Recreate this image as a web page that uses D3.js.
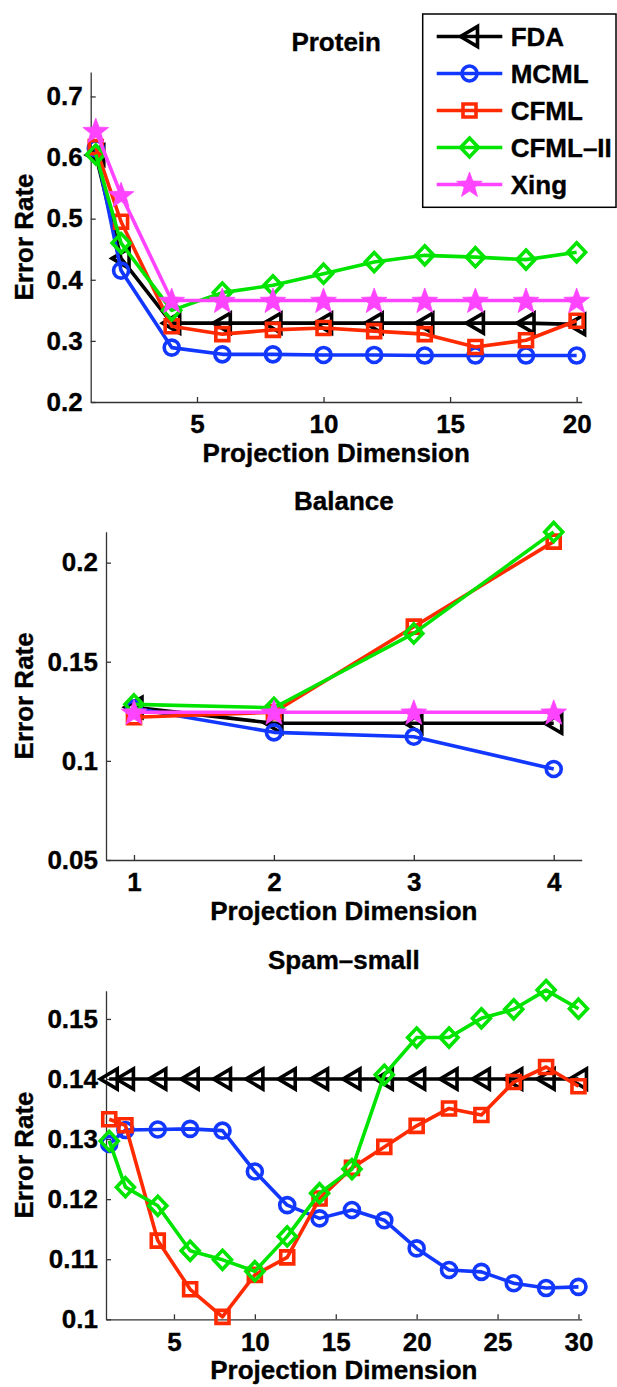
<!DOCTYPE html>
<html>
<head>
<meta charset="utf-8">
<script src="https://cdn.jsdelivr.net/npm/d3@7"></script>
<style>
  html, body { margin: 0; padding: 0; background: #fff; }
  svg { display: block; }
  text { font-family: "Liberation Sans", Arial, Helvetica, sans-serif; font-weight: bold; fill: #000; stroke: #000; stroke-width: 0.35px; }
</style>
</head>
<body>
<svg id="chart" width="617" height="1387"></svg>
<script>
// ---------------- DATA ----------------
const seriesNames = ["FDA", "MCML", "CFML", "CFML\u2013II", "Xing"];

// Protein
const proteinDims = [1, 2, 4, 6, 8, 10, 12, 14, 16, 18, 20];
const proteinFDA   = [0.604, 0.435, 0.329, 0.329, 0.329, 0.329, 0.329, 0.329, 0.329, 0.329, 0.327];
const proteinMCML  = [0.615, 0.415, 0.289, 0.278, 0.278, 0.277, 0.277, 0.276, 0.276, 0.276, 0.276];
const proteinCFML  = [0.617, 0.495, 0.324, 0.311, 0.318, 0.321, 0.316, 0.311, 0.290, 0.301, 0.333];
const proteinCFML2 = [0.605, 0.460, 0.350, 0.379, 0.391, 0.410, 0.429, 0.440, 0.437, 0.433, 0.445];
const proteinXing  = [0.644, 0.539, 0.366, 0.366, 0.366, 0.366, 0.366, 0.366, 0.366, 0.366, 0.366];
const proteinYTicks = [0.2, 0.3, 0.4, 0.5, 0.6, 0.7];
const proteinXTicks = [5, 10, 15, 20];

// Balance
const balanceDims = [1, 2, 3, 4];
const balanceFDA   = [0.127, 0.119, 0.119, 0.119];
const balanceMCML  = [0.1265, 0.1144, 0.1122, 0.0959];
const balanceCFML  = [0.122, 0.1245, 0.1677, 0.2106];
const balanceCFML2 = [0.1285, 0.1268, 0.1643, 0.2155];
const balanceXing  = [0.1245, 0.1245, 0.1245, 0.1245];
const balanceYTicks = [0.05, 0.1, 0.15, 0.2];
const balanceXTicks = [1, 2, 3, 4];

// Spam-small
const spamDims = [1, 2, 4, 6, 8, 10, 12, 14, 16, 18, 20, 22, 24, 26, 28, 30];
const spamFDA   = [0.14, 0.14, 0.14, 0.14, 0.14, 0.14, 0.14, 0.14, 0.14, 0.14, 0.14, 0.14, 0.14, 0.14, 0.14, 0.14];
const spamMCML  = [0.1292, 0.1315, 0.1316, 0.1317, 0.1314, 0.1246, 0.1190, 0.1168, 0.1182, 0.1165, 0.1118, 0.1082, 0.1079, 0.1060, 0.1052, 0.1054];
const spamCFML  = [0.1333, 0.1323, 0.1131, 0.1050, 0.1004, 0.1074, 0.1103, 0.1201, 0.1252, 0.1287, 0.1322, 0.1351, 0.1340, 0.1395, 0.1420, 0.1388];
const spamCFML2 = [0.1297, 0.1220, 0.1189, 0.1114, 0.1099, 0.1080, 0.1138, 0.1210, 0.1250, 0.1407, 0.1469, 0.1469, 0.1501, 0.1516, 0.1548, 0.1517];
const spamYTicks = [0.1, 0.11, 0.12, 0.13, 0.14, 0.15];
const spamXTicks = [5, 10, 15, 20, 25, 30];

// ---------------- STYLE ----------------
const colors  = ["#000000", "#1238ff", "#ff2a00", "#00e400", "#ff44ff"];
const markers = ["tri", "circle", "square", "diamond", "star"];
const FONT = 26;
const LW = 3.6;

const svg = d3.select("#chart");

function markerPath(type) {
  switch (type) {
    case "tri": return "M-9,0 L8,-10 L8,10 Z";
    case "circle": return d3.symbol(d3.symbolCircle, Math.PI * 7.5 * 7.5)();
    case "square": return "M-6.5,-6.5 L6.5,-6.5 L6.5,6.5 L-6.5,6.5 Z";
    case "diamond": return "M0,-9.5 L9,0 L0,9.5 L-9,0 Z";
    case "star": {
      const pts = [];
      for (let i = 0; i < 10; i++) {
        const r = i % 2 === 0 ? 13.5 : 5.6;
        const a = -Math.PI / 2 + i * Math.PI / 5;
        pts.push([r * Math.cos(a), r * Math.sin(a) + 1]);
      }
      return "M" + pts.map(p => p[0].toFixed(2) + "," + p[1].toFixed(2)).join("L") + "Z";
    }
  }
}

function drawMarker(g, type, color, x, y) {
  g.append("path")
    .attr("d", markerPath(type))
    .attr("transform", `translate(${x},${y})`)
    .attr("stroke", color)
    .attr("stroke-width", type === "star" ? 0.8 : LW)
    .attr("stroke-linejoin", "miter")
    .attr("fill", type === "star" ? color : "none");
}

function drawChart(cfg) {
  const g = svg.append("g");
  const x = d3.scaleLinear().domain(cfg.xDomain).range([cfg.left, cfg.right]);
  const y = d3.scaleLinear().domain(cfg.yDomain).range([cfg.bottom, cfg.top]);

  const ya = g.append("g").attr("transform", `translate(${cfg.left},0)`)
    .call(d3.axisLeft(y).tickValues(cfg.yTicks).tickFormat(d => String(+d.toFixed(3)))
      .tickSizeInner(-5).tickSizeOuter(0).tickPadding(8));
  const xa = g.append("g").attr("transform", `translate(0,${cfg.bottom})`)
    .call(d3.axisBottom(x).tickValues(cfg.xTicks).tickFormat(d3.format("d"))
      .tickSizeInner(-5).tickSizeOuter(0).tickPadding(13));
  [ya, xa].forEach(a => {
    a.selectAll("path.domain").attr("stroke", "#333").attr("stroke-width", 1.3);
    a.selectAll(".tick line").attr("stroke", "#333").attr("stroke-width", 1.3);
    a.selectAll(".tick text").attr("font-size", FONT)
      .attr("font-family", '"Liberation Sans", Arial, Helvetica, sans-serif')
      .attr("font-weight", "bold").attr("fill", "#000");
  });

  g.append("text").attr("x", (cfg.left + cfg.right) / 2).attr("y", cfg.top - 21.5)
    .attr("text-anchor", "middle").attr("font-size", FONT).text(cfg.title);
  g.append("text").attr("x", (cfg.left + cfg.right) / 2).attr("y", cfg.bottom + 60)
    .attr("text-anchor", "middle").attr("font-size", FONT).text("Projection Dimension");
  g.append("text").attr("transform", `translate(33,${(cfg.top + cfg.bottom) / 2}) rotate(-90)`)
    .attr("text-anchor", "middle").attr("font-size", FONT).text("Error Rate");

  const line = d3.line().x(d => x(d[0])).y(d => y(d[1]));
  cfg.series.forEach((vals, i) => {
    const idx = cfg.seriesIdx[i];
    const pts = cfg.dims.map((d, j) => [d, vals[j]]);
    g.append("path").attr("d", line(pts)).attr("fill", "none")
      .attr("stroke", colors[idx]).attr("stroke-width", LW).attr("stroke-linejoin", "round");
    pts.forEach(p => drawMarker(g, markers[idx], colors[idx], x(p[0]), y(p[1])));
  });
}

drawChart({
  title: "Protein", dims: proteinDims,
  series: [proteinFDA, proteinMCML, proteinCFML, proteinCFML2, proteinXing], seriesIdx: [0, 1, 2, 3, 4],
  xDomain: [0.8, 20.2], yDomain: [0.2, 0.74], xTicks: proteinXTicks, yTicks: proteinYTicks,
  left: 90.7, right: 581.7, top: 72, bottom: 402
});
drawChart({
  title: "Balance", dims: balanceDims,
  series: [balanceFDA, balanceMCML, balanceCFML, balanceCFML2, balanceXing], seriesIdx: [0, 1, 2, 3, 4],
  xDomain: [0.8, 4.2], yDomain: [0.05, 0.2156], xTicks: balanceXTicks, yTicks: balanceYTicks,
  left: 106, right: 581.7, top: 531.7, bottom: 860
});
drawChart({
  title: "Spam\u2013small", dims: spamDims,
  series: [spamFDA, spamMCML, spamCFML, spamCFML2], seriesIdx: [0, 1, 2, 3],
  xDomain: [0.8, 30.2], yDomain: [0.1, 0.1547], xTicks: spamXTicks, yTicks: spamYTicks,
  left: 106, right: 581.7, top: 990.7, bottom: 1319.3
});

// legend
const lg = svg.append("g");
lg.append("rect").attr("x", 422.7).attr("y", 14).attr("width", 193.3).attr("height", 193.3)
  .attr("fill", "#fff").attr("stroke", "#000").attr("stroke-width", 1.5);
const legendRows = [36.5, 73.5, 110.5, 147.5, 184.5];
seriesNames.forEach((name, i) => {
  const ly = legendRows[i];
  lg.append("line").attr("x1", 436.7).attr("x2", 502.3).attr("y1", ly).attr("y2", ly)
    .attr("stroke", colors[i]).attr("stroke-width", LW);
  drawMarker(lg, markers[i], colors[i], 469.5, ly);
  lg.append("text").attr("x", 510.7).attr("y", ly + 9.4).attr("font-size", FONT).text(name);
});
</script>
</body>
</html>
